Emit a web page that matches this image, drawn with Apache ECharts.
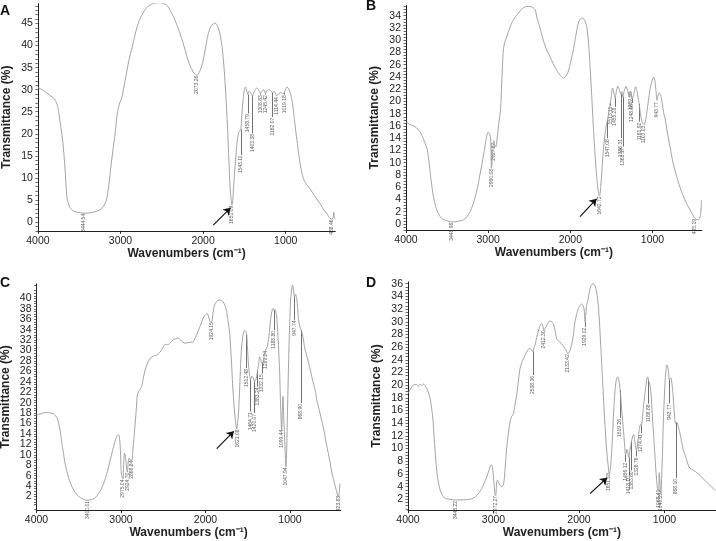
<!DOCTYPE html>
<html><head><meta charset="utf-8">
<script src="https://cdn.jsdelivr.net/npm/echarts@6/dist/echarts.min.js"></script>
<style>html,body{margin:0;padding:0;background:#fff}#main{width:716px;height:541px}</style>
</head><body><div id="main"></div>
<script>
// ---------------- DATA ----------------
// Panel A
const A_wn = [4000,3930,3863,3800,3760,3730,3701,3673,3649,3620,3580,3520,3444,3360,3278,3230,3198,3170,3140,3117,3090,3065,3040,3010,2988,2960,2930,2900,2860,2820,2775,2720,2673,2610,2552,2490,2431,2391,2350,2310,2270,2230,2170,2109,2073,2040,2008,1975,1947,1915,1887,1860,1835,1807,1785,1766,1745,1726,1710,1698,1686,1674,1660,1651,1642,1633,1620,1605,1590,1570,1555,1543,1530,1515,1500,1488,1475,1459,1448,1430,1415,1403,1390,1370,1350,1330,1309,1290,1270,1258,1245,1230,1210,1190,1175,1162,1140,1125,1114,1100,1081,1060,1040,1019,1000,985,968,950,931,915,899,880,859,840,819,800,779,740,698,660,617,575,537,500,464,438,426,418,412,404];
const A_tr = [30.5,29.8,28.8,27.9,26.2,22.5,18.6,12.5,5.7,3.6,2.6,2.2,2.0,2.1,2.5,3.0,3.8,5.0,8.5,12.5,16.5,20.1,24.5,27.0,27.9,30.5,33.5,36.5,39.5,42.8,45.6,47.6,48.8,49.5,49.7,49.6,49.0,47.7,46.2,44.3,42.2,39.8,36.0,33.7,33.3,34.2,36.0,39.0,42.0,44.0,44.8,45.1,44.8,43.5,41.5,39.0,34.5,29.2,23.5,18.6,13.0,8.0,4.8,3.8,4.8,7.3,11.0,14.5,18.0,20.3,20.7,21.0,24.5,28.0,30.0,30.6,30.0,28.9,29.6,29.5,29.0,28.5,29.2,30.0,30.4,30.0,29.2,29.5,30.0,29.8,29.2,29.6,30.0,29.9,29.7,29.3,29.7,29.2,28.6,28.8,29.1,29.4,29.1,29.3,30.2,30.6,30.3,29.5,28.2,26.5,23.9,20.8,17.8,15.0,12.5,10.8,9.5,8.3,7.3,6.2,5.0,3.9,2.7,1.8,0.8,0.7,1.1,2.2,1.2,0.6];
const A_peaks = [3444.54,2073.26,1651.09,1543.11,1458.79,1403.38,1308.83,1245.42,1162.07,1114.44,1019.18,438.46];
const A_drop  = [0,0,0,5.8,4.3,8.4,0.3,0.3,5.5,0.2,0.4,0];
const A_arrow = [[1877,-0.7],[1668,3.2]];
const A_yLabels = [0,5,10,15,20,25,30,35,40,45];

// Panel B
const B_wn = [4000,3950,3890,3850,3830,3800,3769,3745,3728,3714,3700,3683,3667,3645,3626,3595,3566,3520,3464,3449,3404,3350,3302,3270,3241,3210,3180,3150,3120,3090,3059,3035,3018,3000,2994,2980,2969,2960,2950,2940,2932,2927,2918,2905,2895,2884,2870,2857,2847,2835,2825,2815,2800,2774,2745,2713,2670,2633,2580,2531,2490,2430,2409,2369,2329,2290,2247,2210,2166,2120,2085,2055,2025,1995,1964,1935,1903,1875,1849,1825,1800,1780,1760,1740,1720,1700,1679,1665,1651,1643,1630,1615,1598,1582,1566,1547,1530,1513,1500,1487,1475,1465,1455,1440,1422,1405,1386,1375,1361,1345,1322,1300,1285,1270,1258,1248,1230,1205,1190,1175,1162,1145,1125,1103,1085,1065,1045,1025,1005,985,970,958,944,932,918,900,885,865,848,820,787,750,705,665,624,580,543,510,482,460,442,425,413,404];
const B_tr = [16.7,16.2,15.9,15.3,15.1,14.3,13.2,12.3,11.0,9.5,7.7,6.0,4.5,3.2,2.3,1.5,0.9,0.6,0.4,0.35,0.35,0.5,0.65,1.0,1.5,2.3,3.4,4.8,6.6,8.8,11.0,13.0,14.3,15.0,15.0,14.6,13.7,9.1,10.5,12.5,13.6,13.4,12.8,12.6,13.5,14.8,16.5,17.8,19.1,23.0,26.0,28.4,29.6,30.6,31.7,32.8,33.8,34.4,35.2,35.5,35.5,35.0,33.8,32.0,30.0,28.5,27.3,26.2,25.1,24.2,23.8,24.1,24.9,26.5,28.4,30.6,32.8,33.5,33.6,33.2,32.2,29.8,25.7,21.0,15.9,11.5,7.7,5.8,4.7,4.6,6.1,8.8,12.1,14.2,15.8,17.0,18.4,19.8,21.0,22.2,21.8,21.0,20.6,21.6,22.5,22.0,21.2,21.6,20.8,21.7,22.5,21.6,21.0,21.7,21.2,20.4,21.1,22.4,21.8,20.6,19.6,17.8,16.6,16.2,16.8,18.6,20.6,22.3,23.4,24.0,23.3,21.8,20.2,21.0,21.4,21.0,20.0,18.2,17.3,15.0,12.6,10.0,7.7,6.0,4.5,3.2,2.3,1.5,0.9,0.7,0.65,1.0,1.7,3.9];
const B_peaks = [3448.98,2960.08,2927.87,1642.72,1547.08,1513.11,1455.28,1386.31,1361.17,1269.66,1248.55,1161.92,1103.03,943.77,485.19];
const B_drop  = [0,0,0,0,3.0,0.5,1.5,7.2,8.2,0,0.7,2.9,0,0.2,0];
const B_arrow = [[1882,1.2],[1681,4.1]];
const B_yLabels = [0,2,4,6,8,10,12,14,16,18,20,22,24,26,28,30,32,34];

// Panel C
const C_wn = [4000,3941,3900,3862,3830,3803,3775,3752,3724,3710,3696,3680,3665,3640,3617,3580,3547,3500,3448,3400,3350,3310,3270,3232,3190,3153,3120,3094,3070,3055,3040,3027,3015,3008,2996,2985,2975,2968,2960,2950,2940,2930,2924,2915,2905,2897,2885,2869,2858,2845,2831,2818,2807,2790,2779,2760,2752,2735,2720,2700,2681,2660,2633,2605,2582,2555,2524,2500,2484,2465,2445,2420,2385,2350,2326,2295,2267,2240,2209,2180,2150,2120,2091,2060,2031,2005,1980,1965,1952,1935,1924,1910,1893,1870,1854,1830,1810,1795,1770,1750,1734,1714,1694,1675,1655,1639,1628,1621,1612,1600,1590,1576,1556,1536,1520,1512,1504,1489,1477,1465,1450,1435,1420,1400,1383,1370,1359,1347,1332,1316,1300,1289,1268,1249,1229,1209,1197,1189,1178,1170,1158,1142,1122,1111,1099,1090,1083,1075,1063,1048,1040,1032,1022,1012,1002,993,980,970,960,952,948,940,933,925,918,908,899,883,869,855,840,828,803,769,735,702,684,660,631,600,566,530,505,488,470,447,428,418,408];
const C_tr = [17.6,17.9,18.1,18.1,18.0,17.9,17.5,16.9,15.0,13.5,11.8,10.2,8.6,6.8,5.4,3.9,2.9,2.0,1.5,1.3,1.4,1.7,2.5,3.5,5.2,7.3,9.5,11.2,12.6,13.4,13.8,13.8,12.8,11.2,6.5,5.6,5.4,8.5,10.3,10.0,8.5,6.8,6.7,8.6,9.4,9.3,8.8,9.0,11.2,13.5,16.3,19.0,21.4,22.2,22.4,23.0,23.3,24.8,25.9,27.0,27.8,28.4,28.8,29.0,29.1,29.4,30.0,30.7,31.1,31.2,31.1,31.5,32.0,32.3,32.4,32.0,31.6,31.4,31.5,31.6,31.6,32.5,33.6,34.8,36.1,36.8,37.1,36.6,35.8,35.4,35.6,37.3,38.7,39.4,39.6,39.7,39.6,39.4,38.7,37.5,35.9,33.3,28.2,22.4,18.0,15.6,15.0,15.0,17.5,21.0,25.0,30.0,33.0,33.9,33.6,33.0,30.7,26.9,25.2,24.5,25.1,24.8,24.0,24.6,26.3,27.5,28.8,28.3,27.6,28.0,29.5,30.1,30.8,32.7,36.0,37.9,38.1,37.7,37.9,37.6,36.6,32.7,25.6,19.2,14.8,18.5,21.2,17.5,12.8,7.7,10.5,16.7,24.0,30.7,36.0,39.7,41.8,42.6,41.8,40.6,40.3,40.6,40.8,40.3,39.7,37.8,35.9,34.6,33.9,33.3,32.0,30.7,29.1,26.9,24.5,22.4,20.6,19.0,17.0,14.8,11.8,9.0,6.6,5.5,4.3,2.9,1.9,2.8,4.5];
const C_peaks = [3400.01,2975.04,2924.70,2868.84,1924.15,1621.08,1512.48,1464.71,1420.07,1383.24,1332.15,1289.24,1188.80,1099.44,1047.94,947.74,868.90,423.83];
const C_drop  = [0,0,0,0,0,0,6.4,6.2,6.0,3.2,2.0,0,3.8,0,0,4.4,14.0,0];
const C_arrow = [[1867,11.2],[1665,14.5]];
const C_yLabels = [0,2,4,6,8,10,12,14,16,18,20,22,24,26,28,30,32,34,36,38,40,42];

// Panel D
const D_wn = [4000,3970,3938,3900,3880,3860,3840,3820,3801,3780,3763,3740,3723,3708,3696,3685,3673,3660,3645,3620,3587,3550,3509,3448,3392,3330,3275,3230,3197,3165,3138,3110,3080,3055,3041,3030,3021,3010,3002,2990,2980,2972,2963,2953,2940,2924,2905,2892,2880,2873,2860,2846,2825,2807,2790,2768,2750,2729,2710,2690,2660,2632,2600,2581,2565,2550,2538,2525,2515,2495,2476,2456,2436,2420,2409,2395,2378,2360,2339,2320,2300,2280,2261,2240,2222,2190,2164,2140,2133,2113,2088,2065,2047,2025,2008,1985,1969,1955,1942,1935,1929,1922,1910,1893,1880,1864,1848,1833,1815,1801,1788,1774,1760,1746,1730,1715,1700,1684,1670,1657,1651,1645,1636,1626,1616,1606,1596,1587,1577,1567,1557,1547,1538,1528,1519,1510,1500,1493,1484,1474,1465,1456,1448,1440,1430,1418,1408,1397,1383,1370,1360,1350,1340,1328,1318,1305,1290,1280,1274,1263,1253,1243,1233,1223,1213,1204,1195,1187,1181,1172,1164,1152,1141,1131,1121,1111,1101,1093,1085,1078,1070,1065,1061,1056,1050,1043,1038,1029,1021,1014,1004,994,984,974,965,956,950,944,935,924,914,904,896,889,880,874,865,857,845,830,819,800,780,750,722,702,663,620,585,545,506,470,429,405];
const D_tr = [18.7,19.4,20.0,20.1,19.8,20.2,19.9,20.2,19.9,19.5,18.9,17.8,16.3,14.5,12.1,10.0,7.9,6.0,4.7,3.3,2.4,2.1,2.0,1.9,1.9,1.95,2.0,2.2,2.6,3.1,3.7,4.5,5.5,6.5,7.1,7.4,7.4,6.8,5.8,3.8,2.6,2.7,4.7,5.0,4.6,4.2,4.0,4.1,4.6,5.3,7.6,10.0,12.5,14.2,15.0,15.5,16.8,18.4,20.5,22.6,23.9,24.7,25.5,25.8,25.7,25.4,25.3,26.0,26.3,27.5,28.5,29.4,29.7,29.2,28.6,29.0,29.4,29.9,30.1,30.0,29.7,28.6,27.3,27.0,26.8,26.3,25.8,25.2,25.0,25.2,26.3,28.0,30.0,31.3,32.1,32.6,32.8,32.6,32.1,31.0,30.0,31.0,32.6,33.6,34.6,35.5,35.9,36.0,35.8,35.2,34.2,32.6,29.8,26.3,22.3,18.4,14.5,11.0,8.8,7.1,6.3,6.0,6.5,7.8,10.0,12.5,15.6,17.6,19.4,20.6,21.1,21.3,21.0,20.3,19.2,17.8,16.0,15.0,13.5,11.9,10.3,9.0,9.3,9.9,9.5,8.6,9.4,10.3,11.3,12.0,12.2,11.4,10.5,9.6,10.4,11.9,13.5,13.8,13.6,14.2,15.6,17.1,18.2,19.3,20.3,21.1,21.3,20.8,20.5,20.1,19.6,17.5,15.0,12.8,10.8,8.7,6.6,5.2,4.0,3.4,3.3,4.5,6.2,5.5,3.6,2.8,3.5,7.1,10.5,14.0,17.5,20.3,22.2,23.2,23.0,22.4,21.6,20.8,21.1,21.1,20.3,19.2,17.6,16.1,14.8,14.0,14.1,14.2,13.8,13.0,12.4,11.1,9.8,8.6,7.4,6.9,6.6,6.2,5.8,5.2,4.7,4.2,3.7,3.4];
const D_peaks = [3448.22,2972.27,2538.36,2412.30,2133.42,1929.02,1651.08,1519.26,1456.12,1418.10,1383.60,1328.76,1274.41,1186.88,1068.41,1040.35,943.77,868.10];
const D_drop  = [0,0,3.7,0,0,0.8,0,4.4,1.1,2.8,4.7,0.9,1.2,3.7,0,0,3.7,8.7];
const D_arrow = [[1871,2.9],[1671,5.4]];
const D_yLabels = [2,4,6,8,10,12,14,16,18,20,22,24,26,28,30,32,34,36];

const X_labels = [4000,3000,2000,1000];

// ---------------- LAYOUT ----------------
const panels = [
  {wn:A_wn, tr:A_tr, peaks:A_peaks, drop:A_drop, arrow:A_arrow, yl:A_yLabels, ymin:-2, ymax:49.5, tickStep:1,
   grid:{left:37.9, top:3.7, width:297.4, height:227.1}, letter:'A', lx:0, ly:4},
  {wn:B_wn, tr:B_tr, peaks:B_peaks, drop:B_drop, arrow:B_arrow, yl:B_yLabels, ymin:-1, ymax:35.7, tickStep:0.5,
   grid:{left:406, top:5.3, width:295.8, height:224.8}, letter:'B', lx:366, ly:-1},
  {wn:C_wn, tr:C_tr, peaks:C_peaks, drop:C_drop, arrow:C_arrow, yl:C_yLabels, ymin:-0.6, ymax:42.8, tickStep:0.5,
   grid:{left:36.5, top:283.8, width:304.2, height:226.3}, letter:'C', lx:0, ly:276},
  {wn:D_wn, tr:D_tr, peaks:D_peaks, drop:D_drop, arrow:D_arrow, yl:D_yLabels, ymin:0.3, ymax:36.3, tickStep:0.5,
   grid:{left:408, top:281.8, width:307.8, height:228.3}, letter:'D', lx:366, ly:276}
];

function interp(wns, trs, w){
  for (let i=0;i<wns.length-1;i++){
    if (wns[i]>=w && wns[i+1]<=w){
      const t=(wns[i]-w)/(wns[i]-wns[i+1]);
      return trs[i]+(trs[i+1]-trs[i])*t;
    }
  }
  return trs[trs.length-1];
}

const FONT = 'Liberation Sans, Arial, Helvetica, sans-serif';
const grids=[], xAxes=[], yAxes=[], series=[], graphics=[];

panels.forEach((p,i)=>{
  grids.push(Object.assign({outerBoundsMode:'none', containLabel:false}, p.grid));
  xAxes.push({
    type:'value', gridIndex:i, inverse:true, min:400, max:4000,
    axisLine:{onZero:false, lineStyle:{color:'#222', width:1}},
    axisTick:{customValues:X_labels, length:3, lineStyle:{color:'#222'}},
    axisLabel:{customValues:X_labels, fontSize:10.5, color:'#222', margin:5, fontFamily:FONT,
      formatter:(v)=>String(Math.round(v))},
    splitLine:{show:false},
    name:'Wavenumbers (cm\u207B\u00B9)', nameLocation:'middle', nameGap:14,
    nameTextStyle:{fontSize:12, fontWeight:'bold', color:'#222', fontFamily:FONT, verticalAlign:'top'}
  });
  const ticks=[];
  for (let v=Math.ceil(p.ymin/p.tickStep)*p.tickStep; v<=p.ymax+1e-9; v+=p.tickStep) ticks.push(Math.round(v*100)/100);
  yAxes.push({
    type:'value', gridIndex:i, min:p.ymin, max:p.ymax,
    axisLine:{show:true, onZero:false, lineStyle:{color:'#222', width:1}},
    axisTick:{customValues:ticks, length:2.5, lineStyle:{color:'#444', width:0.8}},
    axisLabel:{customValues:p.yl, fontSize:10.5, color:'#222', margin:5, fontFamily:FONT,
      formatter:(v)=>String(Math.round(v))},
    splitLine:{show:false},
    name:'Transmittance (%)', nameLocation:'middle', nameGap:25,
    nameTextStyle:{fontSize:12, fontWeight:'bold', color:'#222', fontFamily:FONT}
  });
  // spectrum
  series.push({
    type:'line', xAxisIndex:i, yAxisIndex:i, showSymbol:false, smooth:0.25, silent:true,
    lineStyle:{color:'#999999', width:0.9},
    data:p.wn.map((w,k)=>[w,p.tr[k]])
  });
  // leader lines and peak labels
  const lineData=[], labData=[];
  p.peaks.forEach((w,k)=>{
    const cy = interp(p.wn,p.tr,w);
    const top = cy - p.drop[k];
    if (p.drop[k]>0.25) lineData.push({coords:[[w,cy],[w,top]]});
    labData.push([w, top - 0.15, w.toFixed(2)]);
  });
  series.push({
    type:'lines', coordinateSystem:'cartesian2d', xAxisIndex:i, yAxisIndex:i, silent:true,
    symbol:['none','none'], lineStyle:{color:'#333', width:0.7, opacity:1},
    data:lineData
  });
  series.push({
    type:'scatter', xAxisIndex:i, yAxisIndex:i, silent:true, symbolSize:0.1,
    itemStyle:{color:'rgba(0,0,0,0)'},
    label:{show:true, position:'inside', rotate:90, align:'right', verticalAlign:'middle',
      fontSize:5, color:'#333', fontFamily:FONT, formatter:(q)=>q.data[2]},
    data:labData
  });
  // arrow
  series.push({
    type:'lines', coordinateSystem:'cartesian2d', xAxisIndex:i, yAxisIndex:i, silent:true,
    symbol:['none','arrow'], symbolSize:7, lineStyle:{color:'#111', width:1.2, opacity:1},
    data:[{coords:p.arrow}]
  });
  graphics.push({type:'text', left:p.lx, top:p.ly,
    style:{text:p.letter, font:'bold 14px '+FONT, fill:'#111'}});
});

const chart = echarts.init(document.getElementById('main'), null, {renderer:'canvas', width:716, height:541});
chart.setOption({
  animation:false,
  backgroundColor:'#fff',
  grid:grids, xAxis:xAxes, yAxis:yAxes, series:series, graphic:graphics
});
</script></body></html>
